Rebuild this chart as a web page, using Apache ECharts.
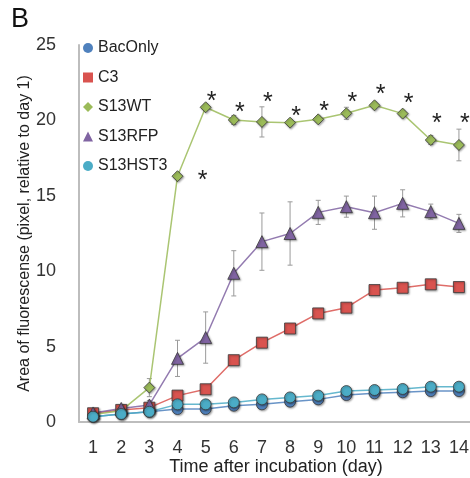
<!DOCTYPE html>
<html>
<head>
<meta charset="utf-8">
<script src="https://cdn.jsdelivr.net/npm/echarts@6/dist/echarts.min.js"></script>
<style>
  html, body { margin: 0; padding: 0; background: #fff; }
  #chart { width: 470px; height: 478px; }
</style>
</head>
<body>
<div id="chart"></div>
<script>
const days = ['1', '2', '3', '4', '5', '6', '7', '8', '9', '10', '11', '12', '13', '14']

// mean values per day
const bacOnly = [0.35, 0.53, 0.68, 0.86, 0.86, 1.08, 1.17, 1.35, 1.5, 1.79, 1.9, 1.97, 2.05, 2.05]
const c3 = [0.58, 0.8, 0.95, 1.75, 2.17, 4.1, 5.26, 6.2, 7.2, 7.58, 8.75, 8.9, 9.13, 8.95]
const s13wt = [0.5, 0.75, 2.28, 16.3, 20.87, 20.03, 19.9, 19.85, 20.07, 20.47, 21.0, 20.45, 18.7, 18.37]
const s13rfp = [0.6, 0.9, 1.13, 4.22, 5.6, 9.86, 11.96, 12.5, 13.9, 14.28, 13.88, 14.5, 13.95, 13.17]
const s13hst3 = [0.35, 0.53, 0.68, 1.17, 1.17, 1.3, 1.5, 1.63, 1.75, 2.05, 2.12, 2.19, 2.34, 2.34]

// error (+/-) per day
const bacOnlyErr = [0.1, 0.1, 0.1, 0.1, 0.1, 0.1, 0.1, 0.1, 0.1, 0.15, 0.1, 0.1, 0.1, 0.1]
const c3Err = [0.1, 0.1, 0.1, 0.15, 0.15, 0.15, 0.15, 0.15, 0.15, 0.3, 0.15, 0.15, 0.15, 0.15]
const s13wtErr = [0.1, 0.1, 0.6, 0.2, 0.2, 0.3, 1.0, 0.2, 0.2, 0.4, 0.2, 0.2, 0.3, 1.05]
const s13rfpErr = [0.1, 0.1, 0.3, 1.2, 1.7, 1.5, 1.9, 2.1, 0.8, 0.7, 1.1, 0.9, 0.5, 0.6]
const s13hst3Err = [0.1, 0.1, 0.1, 0.1, 0.1, 0.1, 0.1, 0.1, 0.1, 0.1, 0.1, 0.1, 0.1, 0.1]

// significance asterisks: [day index, value]
const starPos = [[4, 21.47], [5, 20.76], [6, 21.4], [7, 20.51], [8, 20.8], [9, 21.4], [10, 21.97], [11, 21.35], [12, 20.0], [13, 20.0]]
const starExtra = [[4, 16.25]]

const yTicks = [0, 5, 10, 15, 20, 25]

const FONT = 'Liberation Sans, Arial, sans-serif'

const chart = echarts.init(document.getElementById('chart'))

function lineSeries(name, data, color, symbol, size) {
  return {
    name,
    type: 'line',
    data,
    symbol,
    symbolSize: size,
    z: 3,
    lineStyle: { color, width: 1.5, opacity: 0.85 },
    itemStyle: {
      color,
      borderColor: '#3a3a3a',
      borderWidth: 0.8,
      shadowColor: 'rgba(0,0,0,0.35)',
      shadowBlur: 2,
      shadowOffsetX: 1,
      shadowOffsetY: 1,
    },
  }
}

function errSeries(mean, err) {
  return {
    type: 'custom',
    z: 2,
    silent: true,
    data: mean.map((m, i) => [i, m - err[i], m + err[i]]),
    renderItem(params, api) {
      const lo = api.coord([api.value(0), api.value(1)])
      const hi = api.coord([api.value(0), api.value(2)])
      const w = 2.5
      const style = { stroke: '#9a9a9a', lineWidth: 1 }
      return {
        type: 'group',
        children: [
          { type: 'line', shape: { x1: lo[0], y1: lo[1], x2: hi[0], y2: hi[1] }, style },
          { type: 'line', shape: { x1: lo[0] - w, y1: lo[1], x2: lo[0] + w, y2: lo[1] }, style },
          { type: 'line', shape: { x1: hi[0] - w, y1: hi[1], x2: hi[0] + w, y2: hi[1] }, style },
        ],
      }
    },
  }
}

function starSeries(data, dx) {
  return {
    type: 'custom',
    z: 4,
    silent: true,
    data,
    renderItem(params, api) {
      const p = api.coord([api.value(0), api.value(1)])
      return {
        type: 'text',
        x: p[0] + dx,
        y: p[1] + 4,
        style: {
          text: '*',
          font: '25px ' + FONT,
          fill: '#222',
          align: 'center',
          verticalAlign: 'middle',
        },
      }
    },
  }
}

chart.setOption({
  backgroundColor: '#fff',
  animation: false,
  textStyle: { fontFamily: FONT },
  title: {
    text: 'B',
    left: 6,
    top: 1,
    textStyle: { fontSize: 27, fontWeight: 'normal', color: '#111', fontFamily: FONT },
  },
  legend: {
    orient: 'vertical',
    left: 83,
    top: 40,
    padding: 0,
    itemGap: 13.5,
    itemWidth: 10,
    itemHeight: 10,
    itemStyle: { borderWidth: 0, shadowBlur: 0, shadowOffsetX: 0, shadowOffsetY: 0 },
    textStyle: { fontSize: 16, color: '#222', fontFamily: FONT },
    data: [
      { name: 'BacOnly', icon: 'circle' },
      { name: 'C3', icon: 'rect' },
      { name: 'S13WT', icon: 'diamond' },
      { name: 'S13RFP', icon: 'triangle' },
      { name: 'S13HST3', icon: 'circle' },
    ],
  },
  grid: { left: 79, top: 45, width: 394, height: 377, outerBoundsMode: 'none' },
  xAxis: {
    type: 'category',
    data: days,
    boundaryGap: true,
    name: 'Time after incubation (day)',
    nameLocation: 'middle',
    nameGap: 36,
    nameMoveOverlap: false,
    nameTextStyle: { fontSize: 18, color: '#222', fontFamily: FONT },
    axisLine: { lineStyle: { color: '#bdbdbd', width: 2 } },
    axisTick: { show: false },
    axisLabel: { fontSize: 18, color: '#333', margin: 17, fontFamily: FONT },
  },
  yAxis: {
    type: 'value',
    min: yTicks[0],
    max: yTicks[yTicks.length - 1],
    interval: 5,
    name: 'Area of fluorescense (pixel, relative to day 1)',
    nameLocation: 'middle',
    nameGap: 46,
    nameMoveOverlap: false,
    nameTextStyle: { fontSize: 16, color: '#222', fontFamily: FONT },
    axisLine: { show: true, lineStyle: { color: '#bdbdbd', width: 2 } },
    axisTick: { show: false },
    splitLine: { show: false },
    axisLabel: { fontSize: 18, color: '#333', margin: 23, fontFamily: FONT },
  },
  series: [
    errSeries(bacOnly, bacOnlyErr),
    errSeries(c3, c3Err),
    errSeries(s13wt, s13wtErr),
    errSeries(s13rfp, s13rfpErr),
    errSeries(s13hst3, s13hst3Err),
    lineSeries('BacOnly', bacOnly, '#4f81bd', 'circle', 11),
    lineSeries('C3', c3, '#d9534f', 'rect', 11),
    lineSeries('S13WT', s13wt, '#9bbb59', 'diamond', 11),
    lineSeries('S13RFP', s13rfp, '#8064a2', 'triangle', 12),
    lineSeries('S13HST3', s13hst3, '#4bacc6', 'circle', 11),
    starSeries(starPos, 6),
    starSeries(starExtra, -3),
  ],
})
</script>
</body>
</html>
